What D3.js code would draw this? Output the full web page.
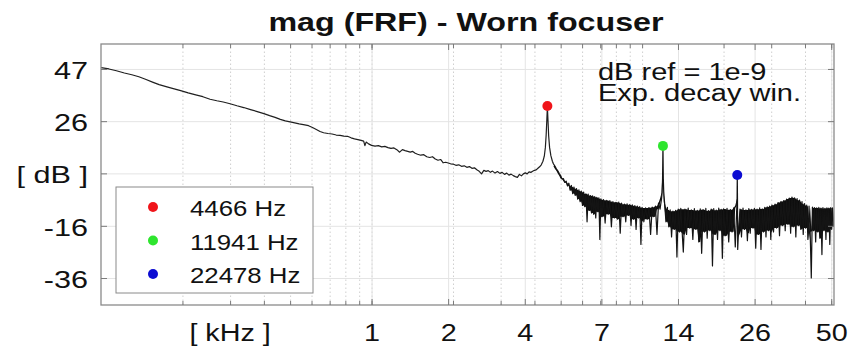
<!DOCTYPE html>
<html><head><meta charset="utf-8">
<script src="https://cdn.jsdelivr.net/npm/d3@7"></script>
<style>
html,body{margin:0;padding:0;background:#fff;}
svg{display:block;font-family:"Liberation Sans",Arial,Helvetica,sans-serif;}
</style>
</head><body>
<svg id="chart" width="863" height="352"></svg>
<script>
// ---------------- data ----------------
const titleText = "mag (FRF) - Worn focuser";
const noteLines = ["dB ref = 1e-9", "Exp. decay win."];
const xAxisLabel = "[ kHz ]";
const xDomainKHz = [0.1, 51.2];
const yDomainDb = [-47, 56.5];
const xTickKHz = [1, 1.919, 3.684, 7.071, 13.57, 26.05, 50];
const xTickLabels = ["1", "2", "4", "7", "14", "26", "50"];
const xMinorKHz = [0.2,0.3,0.4,0.5,0.6,0.7,0.8,0.9,1,2,3,4,5,6,7,8,9,10,20,30,40,50];
const yTickDb = [46.6, 25.9, 5.2, -15.6, -36.3];
const yTickLabels = ["47", "26", "[ dB ]", "-16", "-36"];
const peakKHz = [4.466, 11.941, 22.478];
const peakDb = [31.9, 16.1, 4.55];
const peakLabels = ["4466 Hz", "11941 Hz", "22478 Hz"];
const peakColors = ["#f0141a", "#2ee52e", "#0c0cd2"];

// FRF magnitude trace, low-frequency part (kHz / dB)
const lowBandKHz = [
 0.100,0.107,0.114,0.122,0.130,0.138,0.146,0.155,0.164,0.174,
 0.185,0.197,0.210,0.224,0.238,0.253,0.268,0.283,0.300,0.318,
 0.337,0.357,0.378,0.400,0.420,0.440,0.460,0.480,0.500,0.520,
 0.540,0.560,0.585,0.605,0.625,0.645,0.665,0.690,0.715,0.740,
 0.765,0.790,0.815,0.840,0.865,0.890,0.915,0.935,0.945,0.955,
 0.975,1.00,1.03,1.06,1.09,1.12,1.15,1.18,1.21,1.24,
 1.27,1.30,1.33,1.36,1.39,1.42,1.45,1.48,1.52,1.56,
 1.60,1.64,1.68,1.72,1.76,1.80,1.84,1.88,1.92,1.96,
 2.00,2.05,2.10,2.15,2.20,2.25,2.30,2.35,2.40,2.45,
 2.50,2.55,2.60,2.65,2.70,2.75,2.80,2.86,2.92,2.98,
 3.04,3.10,3.16,3.22,3.28,3.34,3.40,3.46,3.52,3.58,
 3.64,3.70,3.76,3.82,3.88,3.94,4.00,4.06,4.12,4.18,
 4.24,4.30,4.35,4.39,4.42,4.445,4.466,4.49,4.515,4.55,
 4.60,4.66];
const lowBandDb = [
 47.1,46.6,45.9,45.0,44.3,43.5,42.5,41.4,40.4,39.6,
 38.8,38.0,37.1,36.3,35.6,34.6,34.0,33.5,32.8,32.0,
 31.3,30.5,29.7,28.9,28.1,27.4,26.6,26.0,25.6,25.2,
 24.8,24.5,24.1,23.4,22.6,21.8,21.3,21.0,20.8,20.4,
 20.3,20.0,19.9,19.3,18.9,18.6,18.3,18.0,16.2,17.6,
 16.9,16.3,16.0,16.2,15.7,15.9,15.4,15.1,15.3,14.6,
 13.6,14.6,14.2,13.9,13.6,13.9,13.2,12.8,12.4,12.6,
 11.8,11.5,11.8,10.9,10.4,10.7,9.4,9.6,9.3,9.0,
 8.9,8.4,8.6,8.0,8.2,7.6,7.9,7.2,7.4,6.6,
 6.0,5.0,6.4,6.0,6.3,5.6,6.1,5.3,5.9,5.2,
 5.6,4.8,5.3,4.5,4.9,4.3,3.9,3.6,4.8,4.2,
 5.0,5.4,5.0,5.8,5.6,6.0,6.4,6.6,7.2,7.8,
 8.6,10.0,12.0,15.5,20.5,26.5,31.5,26.0,20.0,15.5,
 12.2,10.0];

// FRF magnitude trace, high-frequency (noisy) part (kHz / dB)
const highBandKHz = [
 4.70,4.76,4.82,4.88,4.94,5.00,5.06,5.12,5.18,5.24,
 5.30,5.36,5.42,5.48,5.54,5.60,5.66,5.72,5.78,5.84,
 5.90,5.96,6.02,6.08,6.14,6.20,6.26,6.32,6.38,6.44,
 6.50,6.56,6.62,6.68,6.74,6.80,6.86,6.92,6.98,7.04,
 7.1,7.2,7.3,7.4,7.5,7.6,7.7,7.8,7.9,8.0,
 8.1,8.2,8.3,8.4,8.5,8.6,8.7,8.8,8.9,9.0,
 9.1,9.2,9.3,9.4,9.5,9.6,9.7,9.8,9.9,10.0,
 10.15,10.3,10.45,10.6,10.75,10.9,11.05,11.2,11.35,11.5,
 11.65,11.8,11.86,11.90,11.941,11.98,12.02,12.1,12.25,12.4,
 12.55,12.7,12.85,13.0,13.15,13.3,13.45,13.6,13.75,13.9,
 14.2,14.4,14.6,14.8,15.0,15.2,15.4,15.6,15.8,16.0,
 16.2,16.4,16.6,16.8,17.0,17.2,17.4,17.6,17.8,18.0,
 18.2,18.4,18.6,18.8,19.0,19.2,19.4,19.6,19.8,20.0,
 20.3,20.6,20.9,21.2,21.5,21.8,22.1,22.4,22.44,22.478,
 22.52,22.56,22.7,23.0,23.3,23.6,23.9,24.2,24.5,24.8,
 25.1,25.4,25.7,26.0,26.3,26.6,26.9,27.2,27.5,27.8,
 28.1,28.4,28.7,29.0,29.3,29.6,29.9,30.2,30.6,31.0,
 31.4,31.8,32.2,32.6,33.0,33.4,33.8,34.2,34.6,35.0,
 35.4,35.8,36.2,36.6,37.0,37.4,37.8,38.2,38.6,39.0,
 39.4,39.8,40.2,40.6,41.0,41.4,41.8,42.2,42.6,43.0,
 43.4,43.8,44.2,44.6,45.0,45.4,45.8,46.2,46.6,47.0,
 47.4,47.8,48.2,48.6,49.0,49.4,49.8,50.2,50.6,51.0];
const highBandDb = [
 9.0,8.1,7.0,6.2,5.1,4.3,3.0,3.1,1.6,2.1,
 0.2,1.3,-1.5,0.4,-2.8,-0.2,-3.5,-0.8,-5.0,-1.3,
 -6.0,-1.8,-7.5,-2.2,-8.0,-2.9,-14.0,-3.0,-9.5,-3.6,
 -10.5,-3.7,-11.0,-4.0,-12.5,-4.3,-10.0,-4.5,-21.0,-4.9,
 -12.0,-5.2,-14.5,-5.5,-11.0,-5.6,-16.0,-6.0,-12.5,-6.3,
 -13.0,-6.2,-18.5,-6.6,-12.0,-7.0,-14.0,-6.9,-11.5,-7.2,
 -15.5,-7.3,-13.0,-7.6,-17.0,-7.8,-12.5,-8.0,-23.0,-8.3,
 -14.0,-8.5,-13.0,-8.4,-19.0,-8.2,-12.0,-7.8,-19.0,-6.6,
 -9.0,-4.8,-2.5,3.0,16.1,3.0,-2.0,-6.0,-14.0,-8.3,
 -16.0,-9.3,-20.0,-9.8,-17.0,-9.5,-28.0,-9.0,-18.0,-8.7,
 -26.0,-9.0,-19.0,-8.6,-16.5,-9.3,-21.0,-8.8,-17.0,-9.5,
 -22.0,-8.9,-26.5,-9.2,-18.0,-8.7,-20.5,-9.6,-17.5,-9.0,
 -31.5,-8.8,-19.0,-9.4,-21.0,-8.6,-17.5,-9.1,-28.5,-8.9,
 -19.5,-8.7,-22.0,-9.2,-18.0,-8.5,-24.0,-7.5,-5.0,4.55,
 -5.0,-25.0,-18.5,-9.0,-20.0,-8.6,-17.0,-9.3,-21.5,-8.8,
 -18.5,-9.1,-16.5,-8.7,-24.5,-9.0,-19.0,-8.5,-25.0,-8.9,
 -18.0,-8.3,-20.0,-8.1,-17.5,-7.8,-21.0,-7.4,-18.0,-7.0,
 -16.5,-6.4,-19.5,-6.0,-15.5,-5.6,-17.5,-5.0,-15.0,-4.6,
 -18.5,-4.2,-16.0,-4.5,-20.0,-4.8,-15.5,-5.4,-17.0,-6.0,
 -19.0,-6.8,-16.5,-7.4,-21.0,-7.8,-18.0,-36.3,-8.2,-17.5,
 -8.4,-22.0,-8.5,-18.0,-8.3,-20.5,-8.6,-27.0,-8.4,-17.5,
 -8.7,-21.0,-8.5,-18.0,-8.6,-23.0,-8.4,-17.0,-8.5,-16.0];

// ---------------- layout ----------------
const W = 863, H = 352;
const L = 101, R = 834, T = 44, B = 305;
const SX = 1.25; // horizontal text stretch of the original figure

const svg = d3.select("#chart");
svg.append("rect").attr("width", W).attr("height", H).attr("fill", "#fff");

const x = d3.scaleLog().domain(xDomainKHz).range([L, R]);
const y = d3.scaleLinear().domain(yDomainDb).range([B, T]);

// grid
function gridAxis(axis, tv, size, cls, color, dash) {
  const g = svg.append("g").attr("class", cls)
    .call(axis.tickValues(tv).tickFormat("").tickSizeInner(size).tickSizeOuter(0));
  g.select(".domain").remove();
  g.selectAll(".tick line").attr("stroke", color).attr("stroke-width", 1)
    .attr("stroke-dasharray", dash);
  return g;
}
gridAxis(d3.axisBottom(x), xMinorKHz, -(B - T), "gridMinor", "#cfcfcf", "1.5,2.5")
  .attr("transform", `translate(0,${B})`);
gridAxis(d3.axisBottom(x), xTickKHz, -(B - T), "gridMajorX", "#e4e4e4", null)
  .attr("transform", `translate(0,${B})`);
gridAxis(d3.axisLeft(y), yTickDb, -(R - L), "gridMajorY", "#e4e4e4", null)
  .attr("transform", `translate(${L},0)`);

// trace
const clip = svg.append("clipPath").attr("id", "plotClip");
clip.append("rect").attr("x", L).attr("y", T).attr("width", R - L).attr("height", B - T);

const lowData = lowBandKHz.map((f, i) => ({f, db: lowBandDb[i]}));
const highData = highBandKHz.map((f, i) => ({f, db: highBandDb[i]}));
const line = d3.line().x(d => x(d.f)).y(d => y(d.db));
const traceG = svg.append("g").attr("clip-path", "url(#plotClip)");

// dense core of the noisy band: where the rendered trace overlaps itself
// (second-highest / second-lowest sample of each 4-sample neighbourhood)
const coreData = highData.map((d, i) => {
  const w = highData.slice(Math.max(0, i - 1), i + 3).map(p => p.db).sort((a, b) => a - b);
  return {f: d.f, lo: w[1], hi: w[w.length - 2]};
});
traceG.append("path").datum(coreData)
  .attr("d", d3.area().x(d => x(d.f)).y0(d => y(d.lo)).y1(d => y(d.hi)))
  .attr("fill", "#0d0d0d").attr("stroke", "none");

traceG.append("path").datum(lowData).attr("d", line)
  .attr("fill", "none").attr("stroke", "#1f1f1f").attr("stroke-width", 1.2)
  .attr("stroke-linejoin", "round");
traceG.append("path").datum(lowData.slice(-1).concat(highData)).attr("d", line)
  .attr("fill", "none").attr("stroke", "#141414").attr("stroke-width", 1.2)
  .attr("stroke-linejoin", "round");

// peak markers
svg.append("g").selectAll("circle").data(peakKHz).join("circle")
  .attr("cx", d => x(d)).attr("cy", (d, i) => y(peakDb[i])).attr("r", 5)
  .attr("fill", (d, i) => peakColors[i]);

// frame
svg.append("rect").attr("x", L).attr("y", T).attr("width", R - L).attr("height", B - T)
  .attr("fill", "none").attr("stroke", "#8a8a8a").attr("stroke-width", 1.3);

// axis ticks
function tickAxis(axis, tv, size, fmt, tr) {
  const g = svg.append("g").attr("transform", tr)
    .call(axis.tickValues(tv).tickFormat(fmt).tickSizeInner(size).tickSizeOuter(0));
  g.select(".domain").remove();
  g.attr("font-size", null).attr("font-family", null);
  g.selectAll(".tick line").attr("stroke", "#7a7a7a").attr("stroke-width", 1);
  return g;
}
tickAxis(d3.axisBottom(x), xMinorKHz, -4, "", `translate(0,${B})`);
tickAxis(d3.axisTop(x), xMinorKHz, -4, "", `translate(0,${T})`);
tickAxis(d3.axisTop(x), xTickKHz, -6, "", `translate(0,${T})`);
tickAxis(d3.axisRight(y), yTickDb, -6, "", `translate(${R},0)`);

const gxb = tickAxis(d3.axisBottom(x), xTickKHz, -6, (d, i) => xTickLabels[i], `translate(0,${B})`);
gxb.selectAll(".tick text")
  .attr("y", 36).attr("dy", null).attr("transform", `scale(${SX},1)`)
  .attr("fill", "#111").style("font-size", "23px");

const gyl = tickAxis(d3.axisLeft(y), yTickDb, -6, (d, i) => yTickLabels[i], `translate(${L},0)`);
gyl.selectAll(".tick text")
  .attr("x", -13 / SX).attr("y", 9.5).attr("dy", null).attr("transform", `scale(${SX},1)`)
  .attr("fill", "#111").style("font-size", "24.5px");

// texts
function sText(str, tx, ty, size, anchor, weight) {
  return svg.append("text").attr("transform", `translate(${tx},${ty}) scale(${SX},1)`)
    .attr("text-anchor", anchor).style("font-size", size + "px")
    .style("font-weight", weight || "normal").attr("fill", "#111").text(str);
}
sText(titleText, 466, 31, 25.8, "middle", "bold");
sText(xAxisLabel, x(0.3), 341, 23, "middle");
noteLines.forEach((s, i) => sText(s, 598, 80 + i * 21, 23.2, "start"));

// legend
const lg = svg.append("g");
lg.append("rect").attr("x", 116).attr("y", 187).attr("width", 197).attr("height", 106)
  .attr("fill", "#fff").attr("stroke", "#8a8a8a").attr("stroke-width", 1);
peakLabels.forEach((s, i) => {
  const cy = 207 + i * 33.5;
  lg.append("circle").attr("cx", 153).attr("cy", cy).attr("r", 5).attr("fill", peakColors[i]);
  lg.append("text").attr("transform", `translate(190,${cy + 9}) scale(1.2,1)`)
    .style("font-size", "21.5px").attr("fill", "#111").text(s);
});
</script>
</body></html>
